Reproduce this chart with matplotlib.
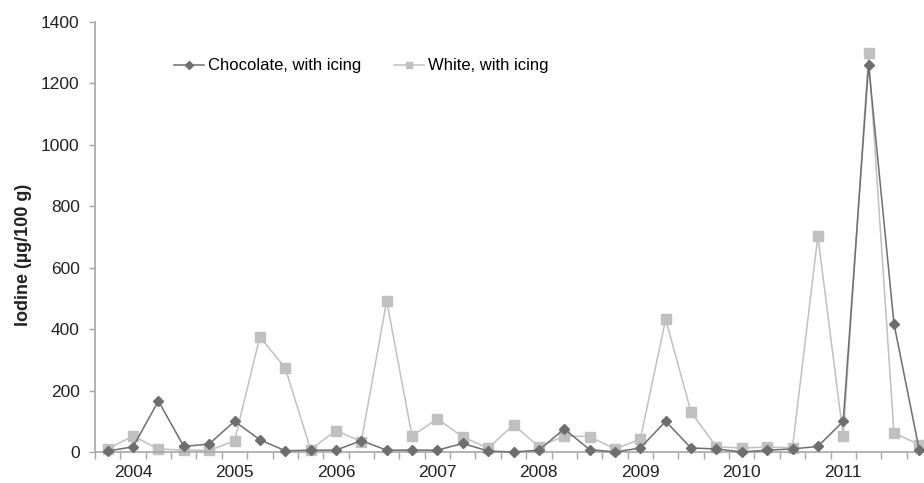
import matplotlib.pyplot as plt
import numpy as np

plt.rcParams['font.family'] = ['Liberation Sans', 'DejaVu Sans']

# quarterly samples, 2004-2011
chocolate = [3, 17, 166, 18, 26, 100, 40, 4, 6, 6, 37, 6, 6, 6, 28, 3, 0,
             6, 75, 8, 0, 13, 100, 13, 10, 0, 6, 10, 18, 100, 1260, 418, 5]
white = [10, 52, 10, 6, 5, 36, 375, 274, 8, 70, 34, 492, 52, 108, 49, 13, 88,
         17, 52, 50, 10, 42, 432, 130, 17, 13, 16, 14, 703, 52, 1298, 62, 24]
years = ['2004', '2005', '2006', '2007', '2008', '2009', '2010', '2011']
year_pos = [1, 5, 9, 13, 17, 21, 25, 29]

W, H = 924, 483
fig = plt.figure(figsize=(W / 100, H / 100), dpi=100)
# plot area runs past the right edge, like the cropped original
ax = fig.add_axes([95 / W, 31 / H, (932 - 95) / W, 430 / H])

x = np.arange(len(chocolate))
axis_col = '#a6a6a6'
text_col = '#222222'

ax.plot(x, chocolate, color='#6e6e6e', lw=1.1, marker='D', ms=5.5,
        mfc='#6e6e6e', mec='#6e6e6e', label='Chocolate, with icing',
        clip_on=False, zorder=3)
ax.plot(x, white, color='#c0c0c0', lw=1.1, marker='s', ms=6.5,
        mfc='#c0c0c0', mec='#c0c0c0', label='White, with icing',
        clip_on=False, zorder=2)

ax.set_xlim(-0.5, len(chocolate) - 0.5)
ax.set_ylim(0, 1400)
ax.set_yticks(range(0, 1401, 200))

ax.set_xticks(year_pos)
ax.set_xticklabels(years)
ax.set_xticks(np.arange(-0.5, len(chocolate), 1), minor=True)
ax.tick_params(axis='x', which='major', length=0, pad=9.5, labelsize=12.5,
               labelcolor=text_col)
ax.tick_params(axis='x', which='minor', length=5, color=axis_col, width=1)
ax.tick_params(axis='y', length=4, color=axis_col, width=1, pad=7,
               labelsize=12.5, labelcolor=text_col)

for s in ['top', 'right']:
    ax.spines[s].set_visible(False)
for s in ['left', 'bottom']:
    ax.spines[s].set_color(axis_col)
    ax.spines[s].set_linewidth(1.2)

ax.set_ylabel('Iodine (µg/100 g)', fontsize=13, fontweight='bold',
              color=text_col)
ax.yaxis.set_label_coords(-0.075, 0.458)

ax.legend(loc='upper left', bbox_to_anchor=(0.077, 0.95), ncol=2,
          frameon=False, fontsize=12, handlelength=1.8, columnspacing=2.0,
          handletextpad=0.2, markerscale=0.75)

fig.savefig('out.png', dpi=100)
